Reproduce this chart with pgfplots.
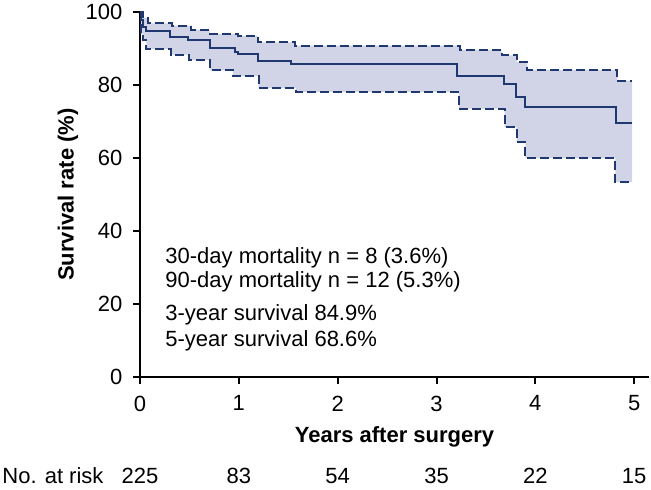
\documentclass[border=0pt]{standalone}
\usepackage{pgfplots}
\pgfplotsset{compat=1.18}
\usepgfplotslibrary{fillbetween}
\usepackage{fontspec}
\setmainfont{Liberation Sans}
\definecolor{navy}{RGB}{31,56,112}
\definecolor{band}{RGB}{209,212,230}
\begin{document}
\fontsize{11}{13}\selectfont
\begin{tikzpicture}[font=\fontsize{11}{13}\selectfont]
\begin{axis}[
  at={(0,0)}, anchor=south west,
  scale only axis,
  width=254.5pt, height=182.5pt,
  xmin=0, xmax=5.15, ymin=0, ymax=100,
  axis x line*=bottom, axis y line*=left,
  axis line style={line width=1pt,-},
  every tick/.style={black, line width=1pt},
  major tick length=3.5pt,
  tick align=outside,
  xtick={0,1,2,3,4,5}, ytick={0,20,40,60,80,100},
  /pgf/number format/assume math mode=true,
  tick label style={font=\fontsize{11}{13}\selectfont},
  xticklabel style={yshift=-2pt},
  yticklabel style={xshift=-1.5pt},
  xlabel={\textbf{Years after surgery}},
  ylabel={\textbf{Survival rate (\%)}},
  label style={font=\fontsize{11}{13}\selectfont},
  xlabel style={at={(axis description cs:0.5,0)}, anchor=center, yshift=-30pt},
  ylabel style={at={(axis description cs:0,0.5)}, anchor=center, yshift=36pt},
  clip=false,
]
\addplot[const plot, draw=none, name path=upper] coordinates {
(0,100) (0.03,98.3) (0.08,96.9) (0.32,96.3) (0.52,95.1) (0.705,94.0) (0.99,93.4) (1.19,91.7) (1.57,90.8) (3.24,89.6) (3.66,88.1) (3.81,86.3) (3.92,84.1) (4.83,81.2) (4.98,81.2)};
\addplot[const plot, draw=none, name path=lower] coordinates {
(0,100) (0.01,94.0) (0.03,92.2) (0.064,89.9) (0.31,88.3) (0.50,86.9) (0.705,84.0) (0.94,82.4) (1.20,79.2) (1.58,78.1) (3.23,73.5) (3.69,68.5) (3.81,64.4) (3.90,60.0) (4.81,53.4) (4.98,53.4)};
\addplot[band, draw=none] fill between[of=upper and lower];
\addplot[const plot, navy, line width=1pt, dash pattern=on 4.5pt off 2pt] coordinates {
(0,100) (0.03,98.3) (0.08,96.9) (0.32,96.3) (0.52,95.1) (0.705,94.0) (0.99,93.4) (1.19,91.7) (1.57,90.8) (3.24,89.6) (3.66,88.1) (3.81,86.3) (3.92,84.1) (4.83,81.2) (4.98,81.2)};
\addplot[const plot, navy, line width=1pt, dash pattern=on 4.5pt off 2pt] coordinates {
(0,100) (0.01,94.0) (0.03,92.2) (0.064,89.9) (0.31,88.3) (0.50,86.9) (0.705,84.0) (0.94,82.4) (1.20,79.2) (1.58,78.1) (3.23,73.5) (3.69,68.5) (3.81,64.4) (3.90,60.0) (4.81,53.4) (4.98,53.4)};
\addplot[const plot, navy, line width=1pt] coordinates {
(0,100) (0.01,97.8) (0.03,96.0) (0.06,94.7) (0.30,93.2) (0.49,92.4) (0.705,90.1) (0.96,89.0) (0.99,88.5) (1.19,86.7) (1.53,85.7) (3.21,82.6) (3.68,80.2) (3.80,76.7) (3.90,73.9) (4.82,69.6) (4.98,69.6)};
\node[anchor=west, inner sep=0pt] at (axis cs:0.253,32.6) {30-day mortality n = 8 (3.6\%)};
\node[anchor=west, inner sep=0pt] at (axis cs:0.253,26.0) {90-day mortality n = 12 (5.3\%)};
\node[anchor=west, inner sep=0pt] at (axis cs:0.253,17.0) {3-year survival 84.9\%};
\node[anchor=west, inner sep=0pt] at (axis cs:0.253,10.0) {5-year survival 68.6\%};
\node[inner sep=0pt, yshift=-49.5pt] at (axis cs:0,0) {225};
\node[inner sep=0pt, yshift=-49.5pt] at (axis cs:1,0) {83};
\node[inner sep=0pt, yshift=-49.5pt] at (axis cs:2,0) {54};
\node[inner sep=0pt, yshift=-49.5pt] at (axis cs:3,0) {35};
\node[inner sep=0pt, yshift=-49.5pt] at (axis cs:4,0) {22};
\node[inner sep=0pt, yshift=-49.5pt] at (axis cs:5,0) {15};
\node[anchor=west, inner sep=0pt, yshift=-49.5pt, xshift=-69pt] at (axis cs:0,0) {No. at risk};
\end{axis}
\pgfresetboundingbox
\path[use as bounding box] (-70pt,-56pt) rectangle (255.5pt,188.5pt);
\end{tikzpicture}
\end{document}
